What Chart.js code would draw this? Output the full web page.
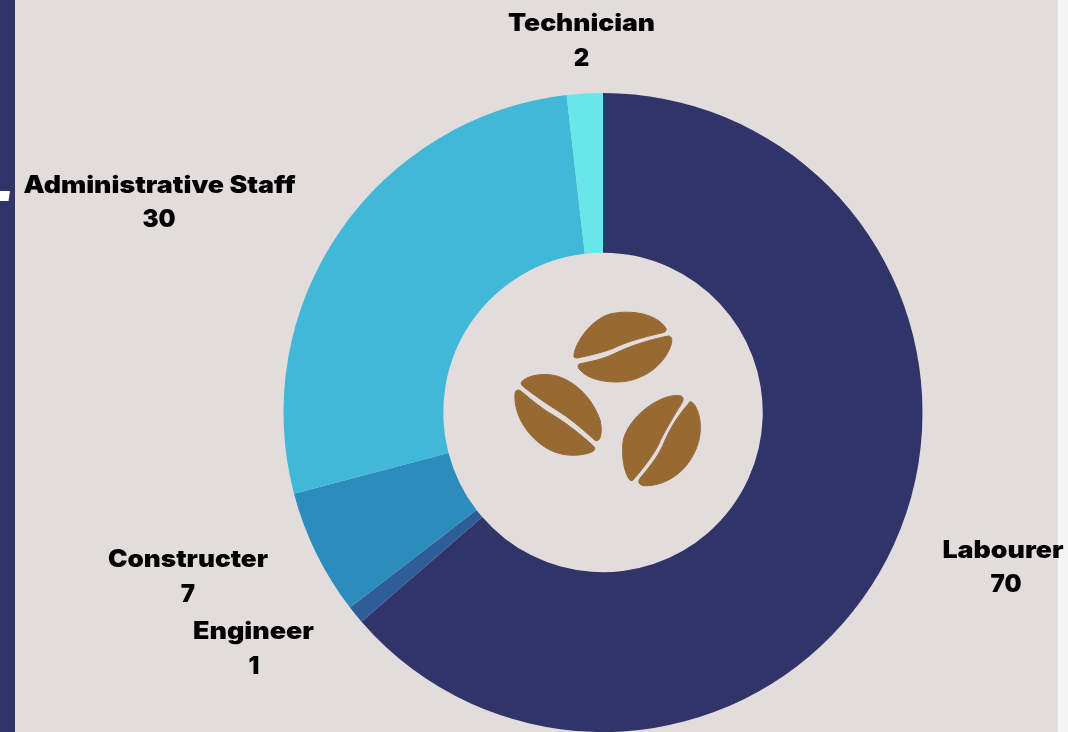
<!DOCTYPE html>
<html><head><meta charset="utf-8">
<style>
html,body{margin:0;padding:0;width:1068px;height:732px;overflow:hidden;background:#e2dcdd}
#l{position:absolute;left:0;top:0;width:15px;height:732px;background:#303468}
#m{position:absolute;left:0;top:191px;width:10px;height:10px;background:#fff;clip-path:polygon(0 0,100% 0,85% 100%,0 100%)}
#r{position:absolute;left:1058px;top:0;width:10px;height:732px;background:#f4f4f4}
canvas{position:absolute;left:0;top:0}
</style>
<script src="https://cdn.jsdelivr.net/npm/chart.js@4"></script>
</head><body>
<div id="l"></div><div id="m"></div><div id="r"></div>
<canvas id="c" width="1068" height="732"></canvas>
<script>
const categories = ["Labourer","Engineer","Constructer","Administrative Staff","Technician"];
const values = [70,1,7,30,2];
const colors = ["#303468","#2f5d98","#2c8cbb","#41b8d8","#69e6ea"];
const nameCenters = [[1003,551],[253.5,632],[188,560],[159.5,186],[581.5,24]];
const valueCenters = [[1006,585],[254,667],[188,595],[159,220],[581.5,59]];
const nameWidths = [121,121,160,272,147];
const beanPaths = [
"M222,165 C225,130 270,60 330,42 C390,28 470,40 498,85 C500,95 495,97 480,100 C430,112 380,125 340,145 C300,160 260,168 232,174 C224,174 220,172 222,165Z",
"M238,192 C270,185 310,178 345,160 C385,140 450,118 505,108 C515,108 517,118 514,132 C500,180 450,235 370,245 C310,250 260,235 238,208 C233,200 233,195 238,192Z",
"M65,245 C85,225 130,218 170,228 C230,245 280,300 300,360 C306,385 305,410 296,420 C288,425 282,420 275,412 C245,385 210,355 170,330 C130,305 95,280 70,260 C63,254 62,250 65,245Z",
"M45,280 C47,268 58,268 65,275 C95,300 130,330 170,352 C210,378 250,410 280,438 C287,445 285,452 275,456 C240,470 190,470 150,450 C100,425 40,360 45,280Z",
"M548,292 C545,285 525,285 505,290 C450,305 385,360 370,420 C362,470 375,525 390,540 C395,545 400,540 405,533 C430,505 460,465 475,435 C490,400 520,350 545,310 C550,302 550,297 548,292Z",
"M570,305 C580,305 590,320 598,350 C608,400 595,450 560,495 C525,540 470,560 430,557 C417,555 413,545 420,535 C445,505 470,475 487,440 C505,395 530,350 565,312 C567,308 568,306 570,305Z"
];
const fontStack = '900 24px Inter, "Noto Sans", sans-serif';

const annotations = {
  id:"annotations",
  afterDraw(chart){
    const ctx = chart.ctx;
    ctx.save();
    ctx.fillStyle = "#000";
    ctx.textAlign = "center";
    ctx.textBaseline = "middle";
    ctx.font = fontStack;
    categories.forEach((name,i)=>{
      const w = ctx.measureText(name).width;
      ctx.save();
      ctx.translate(nameCenters[i][0], nameCenters[i][1]);
      ctx.scale(nameWidths[i]/w, 1);
      ctx.fillText(name,0,0);
      ctx.restore();
      ctx.fillText(String(values[i]), valueCenters[i][0], valueCenters[i][1]);
    });
    ctx.restore();
    ctx.save();
    ctx.translate(500,300);
    ctx.scale(1/3,1/3);
    ctx.fillStyle = "#976a33";
    ctx.strokeStyle = "#976a33";
    ctx.lineWidth = 3;
    ctx.lineJoin = "round";
    beanPaths.forEach(p=>{const path=new Path2D(p);ctx.fill(path);ctx.stroke(path);});
    ctx.restore();
  }
};

new Chart(document.getElementById("c"),{
  type:"doughnut",
  data:{labels:categories,datasets:[{data:values,backgroundColor:colors,borderWidth:0,hoverOffset:0}]},
  options:{
    responsive:false,
    animation:false,
    cutout:"50%",
    layout:{padding:{left:283.5,right:145.5,top:93,bottom:0}},
    plugins:{legend:{display:false},tooltip:{enabled:false}}
  },
  plugins:[annotations]
});
</script>
</body></html>
